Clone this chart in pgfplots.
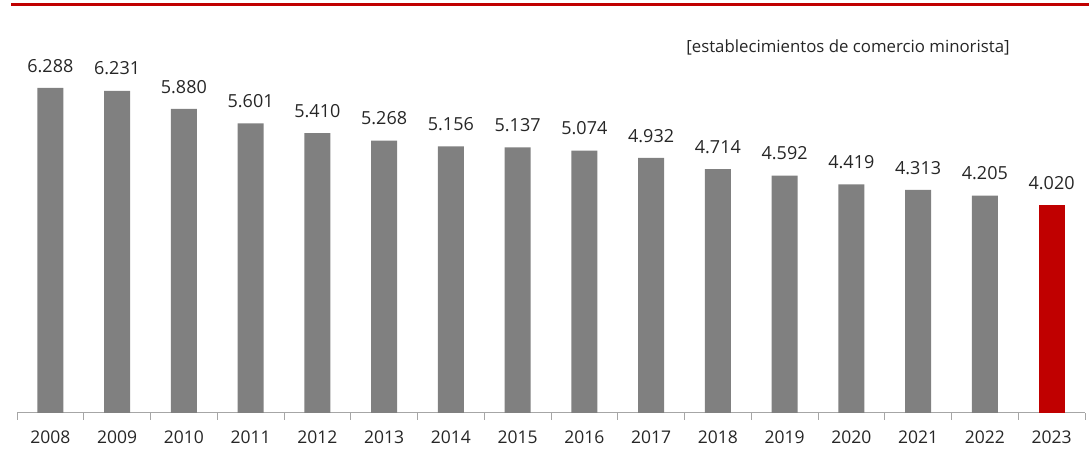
\documentclass[border=0pt]{standalone}
\usepackage{pgfplots}
\pgfplotsset{compat=1.18}
\usepackage{fontspec}
\setmainfont{Open Sans}
\definecolor{bargray}{HTML}{808080}
\definecolor{barred}{HTML}{C00000}
\definecolor{axgray}{HTML}{A6A6A6}
\definecolor{txt}{HTML}{262626}
\begin{document}
\begin{tikzpicture}[x=1bp,y=1bp]
\path[use as bounding box] (0,0) rectangle (1089,474);
\draw[barred, line width=3bp] (11,469) -- (1089,469);
\node[txt, font=\fontsize{16.8bp}{19bp}\selectfont] at (848,427) {[establecimientos de comercio minorista]};
\begin{axis}[
    at={(17bp,61bp)}, anchor=south west,
    scale only axis,
    width=1068bp, height=362bp,
    xmin=-0.5, xmax=15.5,
    ymin=0, ymax=7000,
    axis x line=bottom, axis y line=none,
    axis line style={axgray, line width=1bp, -},
    xtick={0,...,15},
    xticklabels={2008,2009,2010,2011,2012,2013,2014,2015,2016,2017,2018,2019,2020,2021,2022,2023},
    major tick length=0pt,
    minor xtick={-0.5,0.5,...,15.5},
    minor tick length=7bp,
    tick align=outside,
    minor tick style={axgray, line width=1bp},
    xticklabel style={txt, font=\fontsize{17.5bp}{20bp}\selectfont, yshift=-14bp},
    ytick=\empty,
    ybar, bar width=26bp, bar shift=0pt,
    nodes near coords,
    nodes near coords style={txt, font=\fontsize{18bp}{21bp}\selectfont, yshift=12bp,
      /pgf/number format/.cd, 1000 sep={.}, assume math mode=true},
    /pgf/number format/1000 sep={.},
    /pgf/number format/assume math mode=true,
    clip=false,
]
\addplot[fill=bargray, draw=none] coordinates {
(0,6288) (1,6231) (2,5880) (3,5601) (4,5410) (5,5268) (6,5156) (7,5137)
(8,5074) (9,4932) (10,4714) (11,4592) (12,4419) (13,4313) (14,4205)
};
\addplot[fill=barred, draw=none] coordinates {(15,4020)};
\end{axis}
\end{tikzpicture}
\end{document}
